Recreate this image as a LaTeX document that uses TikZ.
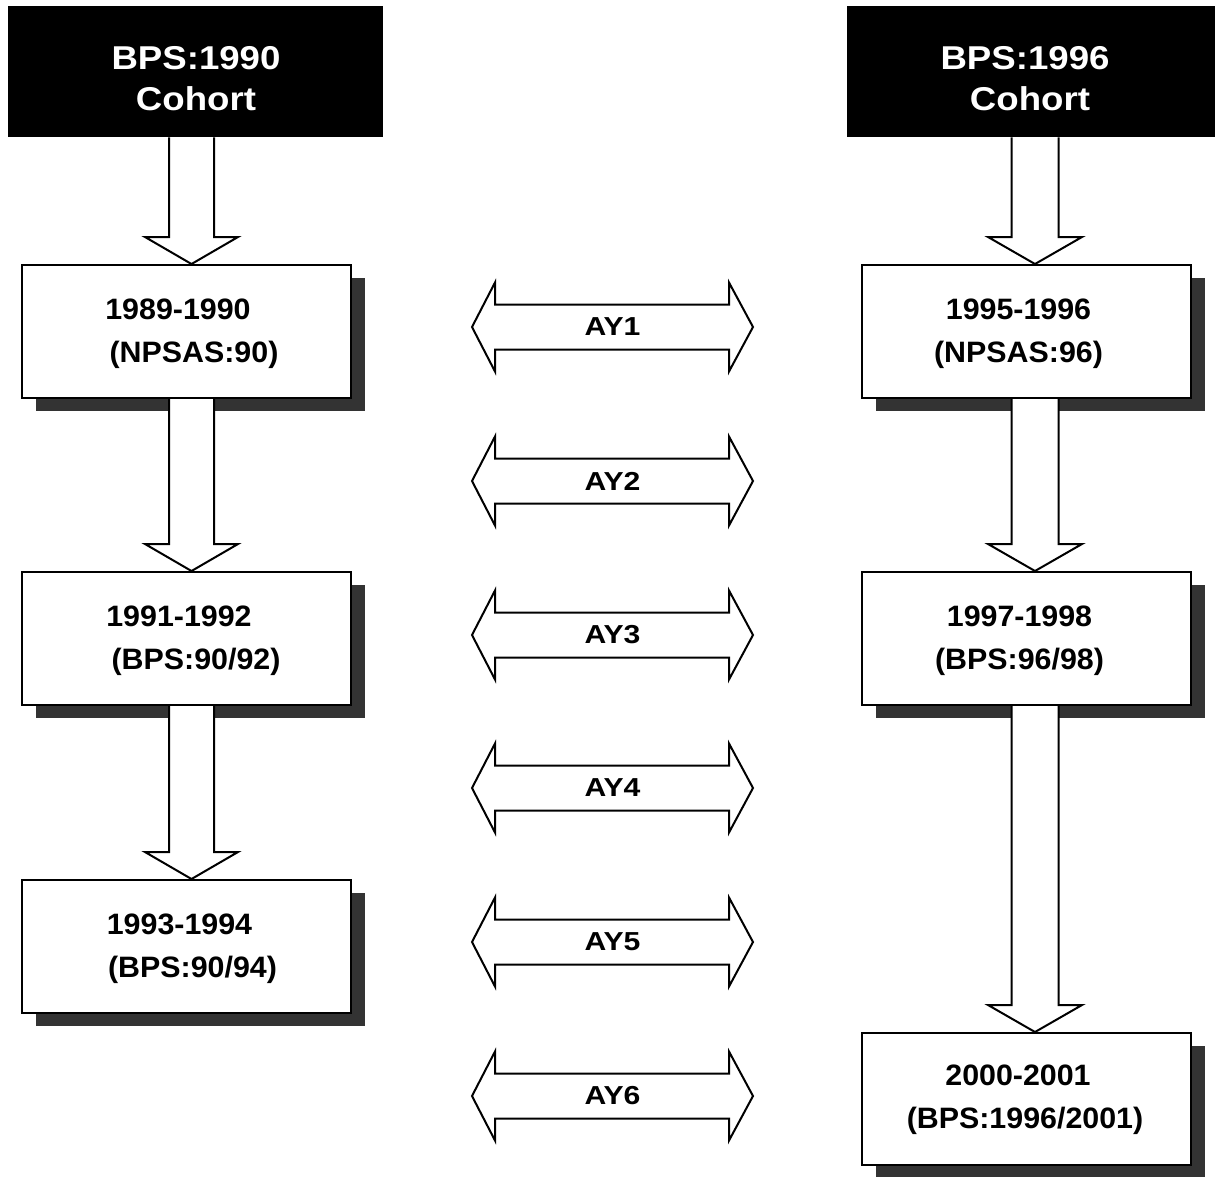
\documentclass[tikz,border=0pt]{standalone}
\usepackage{fontspec}
\setmainfont{Liberation Sans}
\newfontfamily\hdrfont[FakeStretch=1.11]{Liberation Sans}
\newfontfamily\bodyfont[FakeStretch=1.03]{Liberation Sans}
\newfontfamily\ayfont[FakeStretch=1.16]{Liberation Sans}
\usetikzlibrary{calc,shadows}
\newcommand\blkdown[5]{%
  \path (#1 -| #3) coordinate (bt) (#2 -| #3) coordinate (bb);
  \draw[blk] ($(bt)+(-#4,0)$) -- ($(bb)+(-#4,-27)$) -- ($(bb)+(-#5,-27)$) -- (bb)
     -- ($(bb)+(#5,-27)$) -- ($(bb)+(#4,-27)$) -- ($(bt)+(#4,0)$);
}
\newcommand\ayarrow[3]{%
  \coordinate (#1c) at (612.5,#2);
  \draw[blk] ($(#1c)+(-117.5,-22.5)$) -- ($(#1c)+(116.5,-22.5)$) -- ($(#1c)+(116.5,-44.5)$)
     -- ($(#1c)+(140.5,0)$) -- ($(#1c)+(116.5,44.5)$) -- ($(#1c)+(116.5,22.5)$)
     -- ($(#1c)+(-117.5,22.5)$) -- ($(#1c)+(-117.5,44.5)$) -- ($(#1c)+(-140.5,0)$)
     -- ($(#1c)+(-117.5,-44.5)$) -- cycle;
  \node[aytxt] (#1) at (#1c) {#3};
}
\begin{document}
\begin{tikzpicture}[x=1pt,y=-1pt,
  hdr/.style={fill=black, draw=none, minimum height=131pt, inner sep=0pt, anchor=north west},
  hdrtxt/.style={text=white, align=center, inner sep=0pt, font=\hdrfont\bfseries\fontsize{33}{41}\selectfont},
  box/.style={draw=black, line width=2pt, fill=white, minimum width=329pt, minimum height=133pt,
     inner sep=0pt, anchor=north west,
     drop shadow={shadow xshift=14pt, shadow yshift=-13pt, fill=black!80, opacity=1}},
  boxtxt/.style={align=center, inner sep=0pt, font=\bodyfont\bfseries\fontsize{29.5}{43}\selectfont},
  aytxt/.style={inner sep=0pt, font=\ayfont\bfseries\fontsize{26}{30}\selectfont},
  blk/.style={draw=black, fill=white, line width=2pt, line join=miter}]
\useasboundingbox (0,0) rectangle (1215,1176);
\fill[white] (0,0) rectangle (1215,1176);

% headers
\node[hdr, minimum width=375pt] (hL) at (8,6) {};
\node[hdr, minimum width=368pt] (hR) at (847,6) {};
\node[hdrtxt] (hLt) at (196,78.5) {BPS:1990\\Cohort};
\node[hdrtxt] (hRt) at (1027.5,78.5) {BPS:1996\rule{5pt}{0pt}\\\rule{5pt}{0pt}Cohort};

% boxes
\node[box] (b1) at (21,264) {};
\node[box] (b2) at (21,571) {};
\node[box] (b3) at (21,879) {};
\node[box] (b4) at (861,264) {};
\node[box] (b5) at (861,571) {};
\node[box, minimum height=132pt] (b6) at (861,1032) {};

\coordinate (xL) at (191.5,0);
\coordinate (xR) at (1035,0);

% block arrows
\blkdown{hL.south}{b1.north}{xL}{22.5}{46.5}
\blkdown{b1.south}{b2.north}{xL}{22.5}{46.5}
\blkdown{b2.south}{b3.north}{xL}{22.5}{46.5}
\blkdown{hR.south}{b4.north}{xR}{23.5}{47}
\blkdown{b4.south}{b5.north}{xR}{23.5}{47}
\blkdown{b5.south}{b6.north}{xR}{23.5}{47}

% box texts
\node[boxtxt] (t1) at ($(b1.center)+(0,2)$) {1989-1990\rule{17pt}{0pt}\\\rule{15pt}{0pt}(NPSAS:90)};
\node[boxtxt] (t2) at ($(b2.center)+(0,2)$) {1991-1992\rule{15pt}{0pt}\\\rule{19pt}{0pt}(BPS:90/92)};
\node[boxtxt] (t3) at ($(b3.center)+(0,2)$) {1993-1994\rule{14pt}{0pt}\\\rule{12pt}{0pt}(BPS:90/94)};
\node[boxtxt] (t4) at ($(b4.center)+(-8,2)$) {1995-1996\\(NPSAS:96)};
\node[boxtxt] (t5) at ($(b5.center)+(-7,2)$) {1997-1998\\(BPS:96/98)};
\node[boxtxt] (t6) at ($(b6.center)+(-5,1)$) {2000-2001\rule{7pt}{0pt}\\\rule{7pt}{0pt}(BPS:1996/2001)};

% AY double arrows
\ayarrow{ay1}{327}{AY1}
\ayarrow{ay2}{481}{AY2}
\ayarrow{ay3}{635}{AY3}
\ayarrow{ay4}{788}{AY4}
\ayarrow{ay5}{942}{AY5}
\ayarrow{ay6}{1096}{AY6}
\end{tikzpicture}
\end{document}
